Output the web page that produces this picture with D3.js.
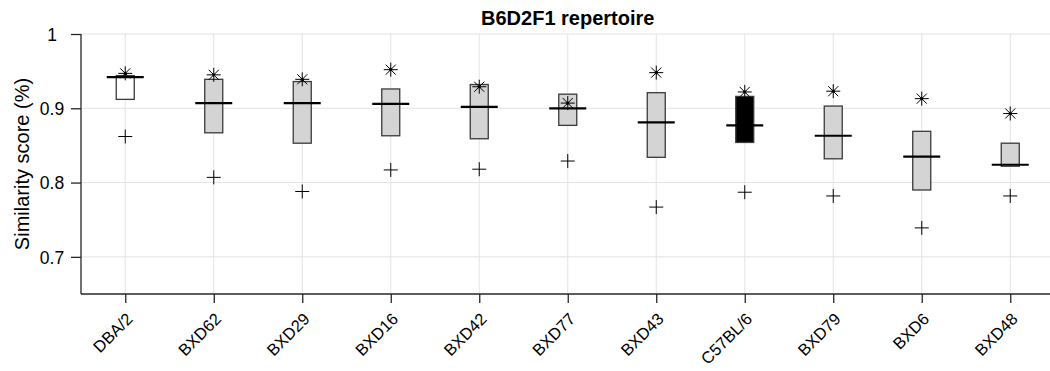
<!DOCTYPE html>
<html>
<head>
<meta charset="utf-8">
<script src="https://cdn.jsdelivr.net/npm/d3@7"></script>
<style>
  html, body { margin: 0; padding: 0; background: #fff; }
  svg { display: block; font-family: "Liberation Sans", Arial, Helvetica, sans-serif; }
</style>
</head>
<body>
<svg id="chart" width="1050" height="371"></svg>
<script>
// ---- data ----
const categories = ["DBA/2","BXD62","BXD29","BXD16","BXD42","BXD77","BXD43","C57BL/6","BXD79","BXD6","BXD48"];
const strainType = ["parentD","BXD","BXD","BXD","BXD","BXD","BXD","parentB","BXD","BXD","BXD"];
const upperQuartile = [0.944,0.939,0.936,0.926,0.932,0.919,0.921,0.916,0.903,0.869,0.853];
const medians       = [0.942,0.907,0.907,0.906,0.902,0.900,0.881,0.877,0.863,0.835,0.824];
const lowerQuartile = [0.912,0.867,0.853,0.863,0.859,0.877,0.834,0.854,0.832,0.790,0.822];
const starValues    = [0.947,0.945,0.939,0.952,0.929,0.907,0.948,0.922,0.923,0.913,0.893];
const plusValues    = [0.862,0.807,0.788,0.817,0.818,0.829,0.767,0.787,0.782,0.739,0.782];
const yTicks = [0.7, 0.8, 0.9, 1];
const yTickLabels = ["0.7", "0.8", "0.9", "1"];
const yDomain = [0.65, 1];
const chartTitle = "B6D2F1 repertoire";
const yTitle = "Similarity score (%)";

// ---- layout ----
const svg = d3.select("#chart");
const mLeft = 81, mRight = 1054.5, mTop = 34, mBottom = 294;
const x = d3.scalePoint().domain(categories).range([mLeft, mRight]).padding(0.5);
const y = d3.scaleLinear().domain(yDomain).range([mBottom, mTop]);
const fillFor = t => t === "parentD" ? "#ffffff" : (t === "parentB" ? "#000000" : "#d4d4d4");

const rows = categories.map((c, i) => ({
  c, type: strainType[i], q3: upperQuartile[i], med: medians[i], q1: lowerQuartile[i],
  star: starValues[i], plus: plusValues[i]
}));

// grid
const grid = svg.append("g").attr("stroke", "#e3e3e3").attr("stroke-width", 1);
grid.selectAll("line.vx").data(categories).join("line")
  .attr("x1", d => x(d)).attr("x2", d => x(d)).attr("y1", mTop).attr("y2", mBottom);
grid.selectAll("line.hy").data(yTicks).join("line")
  .attr("x1", mLeft).attr("x2", mRight).attr("y1", d => y(d)).attr("y2", d => y(d));

// boxes
const boxW = 18, medW = 37, mk = 7;
const g = svg.append("g");
g.selectAll("rect.box").data(rows).join("rect")
  .attr("x", d => x(d.c) - boxW / 2).attr("width", boxW)
  .attr("y", d => y(d.q3)).attr("height", d => y(d.q1) - y(d.q3))
  .attr("fill", d => fillFor(d.type)).attr("stroke", "#3a3a3a").attr("stroke-width", 1.3);
g.selectAll("line.med").data(rows).join("line")
  .attr("x1", d => x(d.c) - medW / 2).attr("x2", d => x(d.c) + medW / 2)
  .attr("y1", d => y(d.med)).attr("y2", d => y(d.med))
  .attr("stroke", "#000").attr("stroke-width", 2.2);

// star markers
const stars = g.selectAll("g.star").data(rows).join("g")
  .attr("transform", d => `translate(${x(d.c)},${y(d.star)})`)
  .attr("stroke", "#000").attr("stroke-width", 1);
const dd = mk * 0.72;
stars.append("line").attr("x1", -mk).attr("x2", mk).attr("y1", 0).attr("y2", 0);
stars.append("line").attr("x1", 0).attr("x2", 0).attr("y1", -mk).attr("y2", mk);
stars.append("line").attr("x1", -dd).attr("x2", dd).attr("y1", -dd).attr("y2", dd);
stars.append("line").attr("x1", -dd).attr("x2", dd).attr("y1", dd).attr("y2", -dd);
stars.append("circle").attr("r", 1.6).attr("fill", "#000").attr("stroke", "none");

// plus markers
const pluses = g.selectAll("g.plus").data(rows).join("g")
  .attr("transform", d => `translate(${x(d.c)},${y(d.plus)})`)
  .attr("stroke", "#000").attr("stroke-width", 1);
pluses.append("line").attr("x1", -mk).attr("x2", mk).attr("y1", 0).attr("y2", 0);
pluses.append("line").attr("x1", 0).attr("x2", 0).attr("y1", -mk).attr("y2", mk);

// axes
const yAxis = d3.axisLeft(y).tickValues(yTicks)
  .tickFormat((d, i) => yTickLabels[i]).tickSize(10).tickSizeOuter(0);
const ya = svg.append("g").attr("transform", `translate(${mLeft},0)`).call(yAxis);
ya.attr("font-size", null).attr("font-family", null);
ya.select(".domain").attr("d", `M0,${mBottom}V${mTop}`);
ya.selectAll("path, line").attr("stroke", "#262626").attr("stroke-width", 1.3);
ya.selectAll("text").attr("text-anchor", "middle").attr("x", -29).attr("dy", "0.36em")
  .style("font-size", "17.5px").attr("fill", "#000");

const xAxis = d3.axisBottom(x).tickSize(9).tickSizeOuter(0);
const xa = svg.append("g").attr("transform", `translate(0,${mBottom})`).call(xAxis);
xa.attr("font-size", null).attr("font-family", null);
xa.select(".domain").attr("d", `M${mLeft},0H${mRight}`);
xa.selectAll("path, line").attr("stroke", "#262626").attr("stroke-width", 1.3);
xa.selectAll(".tick text")
  .attr("text-anchor", "end").attr("y", 0).attr("dy", 0)
  .attr("transform", "translate(8,26) rotate(-45)")
  .style("font-size", "16.5px").attr("fill", "#000");

// titles
svg.append("text").attr("x", (mLeft + mRight) / 2).attr("y", 25)
  .attr("text-anchor", "middle").attr("font-weight", "bold").style("font-size", "20px")
  .text(chartTitle);
svg.append("text").attr("transform", `translate(29,${(mTop + mBottom) / 2}) rotate(-90)`)
  .attr("text-anchor", "middle").style("font-size", "20px").text(yTitle);
</script>
</body>
</html>
